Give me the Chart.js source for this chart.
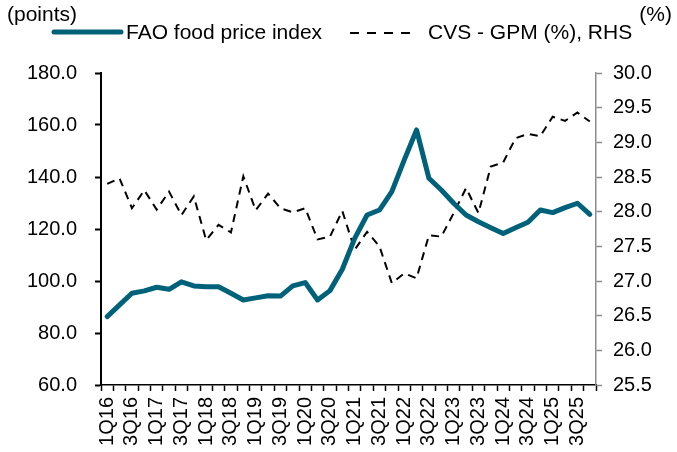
<!DOCTYPE html>
<html>
<head>
<meta charset="utf-8">
<script src="https://cdn.jsdelivr.net/npm/chart.js@4.4.1/dist/chart.umd.min.js"></script>
<style>
  body { margin: 0; background: #fff; }
</style>
</head>
<body>
<canvas id="myChart" width="677" height="452"></canvas>
<script>
// quarters 1Q16 .. 4Q25
var quarters = ['1Q16', '2Q16', '3Q16', '4Q16', '1Q17', '2Q17', '3Q17', '4Q17',
    '1Q18', '2Q18', '3Q18', '4Q18', '1Q19', '2Q19', '3Q19', '4Q19',
    '1Q20', '2Q20', '3Q20', '4Q20', '1Q21', '2Q21', '3Q21', '4Q21',
    '1Q22', '2Q22', '3Q22', '4Q22', '1Q23', '2Q23', '3Q23', '4Q23',
    '1Q24', '2Q24', '3Q24', '4Q24', '1Q25', '2Q25', '3Q25', '4Q25'];

var faoIndex = [86.3, 90.8, 95.3, 96.2, 97.6, 96.8, 99.7, 98.1,
    97.8, 97.8, 95.3, 92.7, 93.5, 94.3, 94.2, 98.1,
    99.4, 92.7, 96.3, 104.5, 116.4, 125.4, 127.3, 134.4,
    146.5, 158.1, 139.5, 135.0, 129.9, 125.4, 122.8, 120.5,
    118.3, 120.5, 122.6, 127.3, 126.3, 128.2, 129.9, 125.6];

var cvsGpm = [28.40, 28.48, 28.05, 28.31, 28.03, 28.29, 27.95, 28.22,
    27.59, 27.81, 27.70, 28.51, 28.02, 28.26, 28.05, 27.99,
    28.05, 27.60, 27.64, 28.01, 27.45, 27.71, 27.50, 26.97,
    27.11, 27.04, 27.66, 27.64, 27.98, 28.34, 27.98, 28.65,
    28.71, 29.06, 29.12, 29.09, 29.37, 29.31, 29.43, 29.30];

var teal = '#00627a';
var tickFont = { family: 'Liberation Sans, Arial, sans-serif', size: 20 };

// legend and unit labels drawn on top
var headerPlugin = {
    id: 'header',
    afterDraw: function(chart) {
        var c = chart.ctx;
        c.save();
        c.font = '21px Liberation Sans, Arial, sans-serif';
        c.fillStyle = '#000';
        c.textBaseline = 'middle';
        c.textAlign = 'left';
        c.fillText('(points)', 7, 15);
        c.textAlign = 'right';
        c.fillText('(%)', 672, 15);

        c.lineCap = 'round';
        c.strokeStyle = teal;
        c.lineWidth = 5;
        c.beginPath();
        c.moveTo(54, 32);
        c.lineTo(121, 32);
        c.stroke();

        c.lineCap = 'butt';
        c.strokeStyle = '#000';
        c.lineWidth = 2;
        c.setLineDash([9, 8]);
        c.beginPath();
        c.moveTo(350, 33);
        c.lineTo(414, 33);
        c.stroke();
        c.setLineDash([]);

        c.textAlign = 'left';
        c.fillText('FAO food price index', 126, 33);
        c.fillText('CVS - GPM (%), RHS', 428, 33);
        c.restore();
    }
};

var ctx = document.getElementById('myChart').getContext('2d');
var myChart = new Chart(ctx, {
    type: 'line',
    data: {
        labels: quarters,
        datasets: [
            {
                label: 'FAO food price index',
                data: faoIndex,
                yAxisID: 'y',
                borderColor: teal,
                backgroundColor: teal,
                borderWidth: 5,
                borderJoinStyle: 'round',
                borderCapStyle: 'round',
                pointRadius: 0,
                fill: false,
                tension: 0
            },
            {
                label: 'CVS - GPM (%), RHS',
                data: cvsGpm,
                yAxisID: 'y1',
                borderColor: '#000',
                backgroundColor: '#000',
                borderWidth: 2,
                borderDash: [8, 6],
                pointRadius: 0,
                fill: false,
                tension: 0
            }
        ]
    },
    options: {
        responsive: false,
        animation: false,
        layout: { padding: { top: 73, left: 0, right: 0, bottom: 0 } },
        plugins: {
            legend: { display: false },
            tooltip: { enabled: false }
        },
        scales: {
            x: {
                offset: true,
                grid: { offset: true, drawOnChartArea: false, tickLength: 6, tickColor: '#000', tickWidth: 1.5 },
                border: { color: '#000', width: 1.5 },
                ticks: {
                    autoSkip: false,
                    maxRotation: 90,
                    minRotation: 90,
                    padding: 6,
                    color: '#000',
                    font: tickFont,
                    callback: function(v, i) { return i % 2 === 0 ? quarters[i] : ''; }
                },
                afterFit: function(s) { s.height = 67; }
            },
            y: {
                position: 'left',
                min: 60,
                max: 180,
                grid: { drawOnChartArea: false, tickLength: 6, tickColor: '#000', tickWidth: 2 },
                border: { color: '#000', width: 2 },
                ticks: {
                    stepSize: 20,
                    padding: 18,
                    color: '#000',
                    font: tickFont,
                    callback: function(v) { return v.toFixed(1); }
                },
                afterFit: function(s) { s.width = 101; }
            },
            y1: {
                position: 'right',
                min: 25.5,
                max: 30,
                grid: { drawOnChartArea: false, tickLength: 6, tickColor: '#8c8c8c', tickWidth: 1.5 },
                border: { color: '#8c8c8c', width: 1.5 },
                ticks: {
                    stepSize: 0.5,
                    padding: 11,
                    color: '#000',
                    font: tickFont,
                    callback: function(v) { return v.toFixed(1); }
                },
                afterFit: function(s) { s.width = 81; }
            }
        }
    },
    plugins: [headerPlugin]
});
</script>
</body>
</html>
